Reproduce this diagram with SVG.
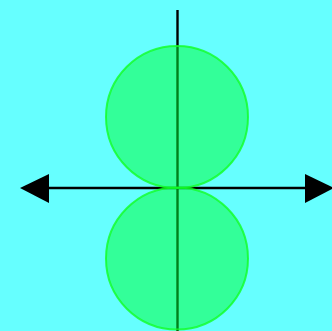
<svg xmlns="http://www.w3.org/2000/svg" width="332" height="331" viewBox="0 0 332 331">
<style>
.ax{stroke:#000;stroke-width:2.4;fill:none}
.head{fill:#000}
.c{fill:#00ff33;fill-opacity:0.5;stroke:#11ff22;stroke-opacity:0.8;stroke-width:2}
</style>
<rect width="332" height="331" fill="#66ffff"/>
<g id="connectors">
<line class="ax" x1="177.5" y1="10" x2="177.5" y2="331"/>
<line class="ax" x1="45" y1="188" x2="310" y2="188"/>
<polygon class="head" points="20,188 49,174 49,203"/>
<polygon class="head" points="334,188 305,174 305,203"/>
</g>
<g id="top-circle"><circle class="c" cx="177" cy="117" r="71"/></g>
<g id="bottom-circle"><circle class="c" cx="177" cy="258.5" r="71"/></g>
</svg>
